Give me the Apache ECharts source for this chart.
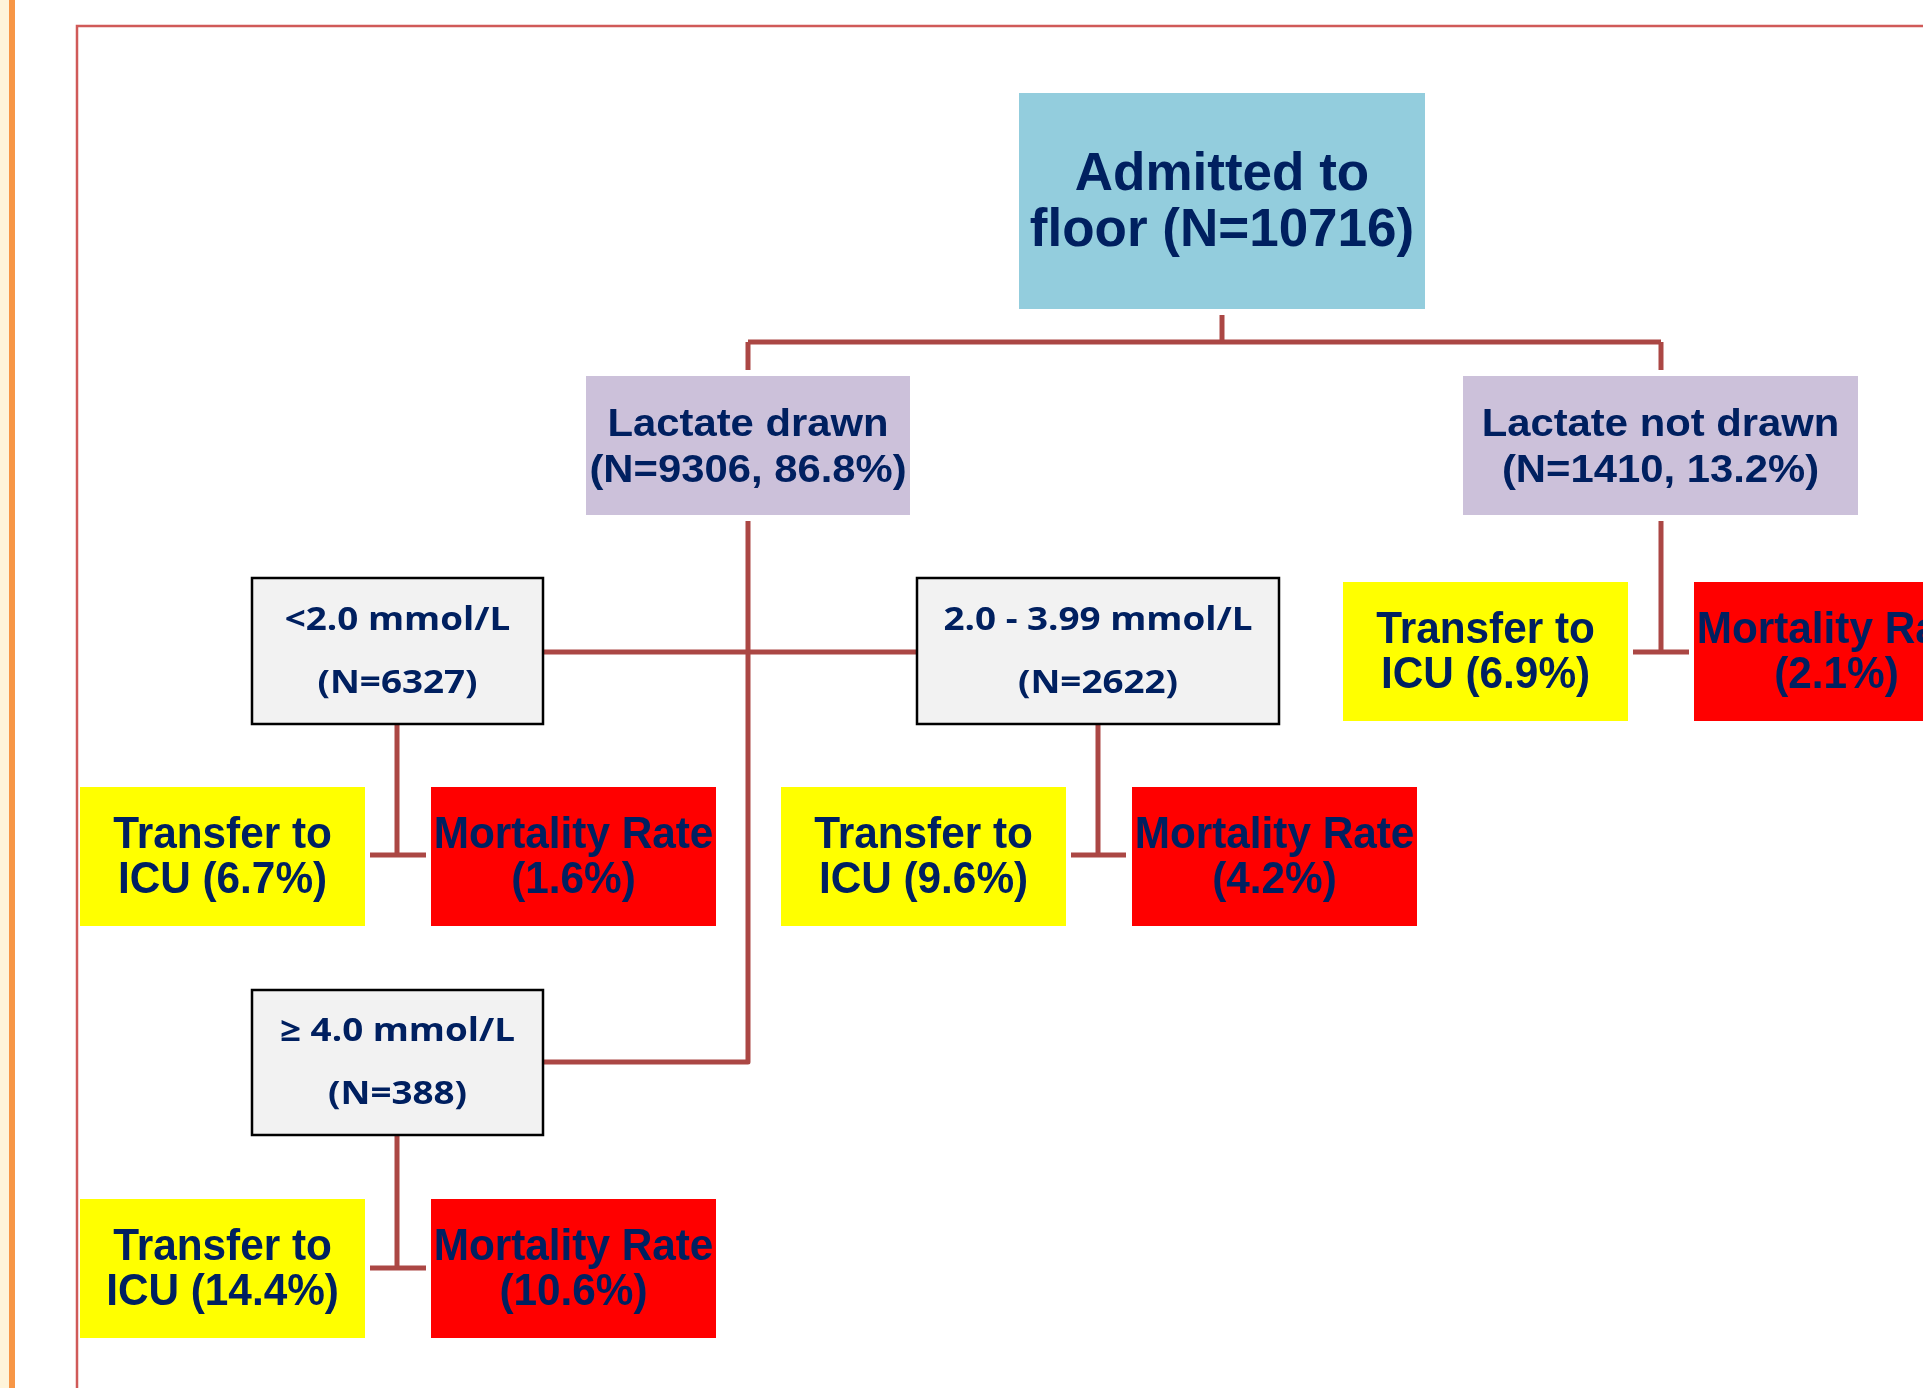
<!DOCTYPE html>
<html>
<head>
<meta charset="utf-8">
<script src="https://cdn.jsdelivr.net/npm/echarts@6/dist/echarts.min.js"></script>
<style>
  html, body { margin: 0; padding: 0; background: #ffffff; }
  #chart { width: 1923px; height: 1388px; }
</style>
</head>
<body>
<div id="chart"></div>
<script>
// ---------------- DATA ----------------
const rootName = 'Admitted to\nfloor';
const rootN = 10716;
const branchNames = ['Lactate drawn', 'Lactate not drawn'];
const branchN = [9306, 1410];
const branchPct = [86.8, 13.2];
const lactateLevels = ['<2.0 mmol/L', '2.0 - 3.99 mmol/L', '\u2265 4.0 mmol/L'];
const levelN = [6327, 2622, 388];
const outcomeGroups = ['<2.0 mmol/L', '2.0 - 3.99 mmol/L', '\u2265 4.0 mmol/L', 'Lactate not drawn'];
const icuTransferPct = [6.7, 9.6, 14.4, 6.9];
const mortalityPct = [1.6, 4.2, 10.6, 2.1];

// ---------------- LAYOUT (page pixels) ----------------
const rootBox = [1019, 93, 406, 216];
const branchBoxes = [[586, 376, 324, 139], [1463, 376, 395, 139]];
const levelBoxes = [[252, 578, 291, 146], [917, 578, 362, 146], [252, 990, 291, 145]];
const outcomeOrigins = [[80, 787], [781, 787], [80, 1199], [1343, 582]];
const outcomeSize = [285, 139];
const redOffset = 351;
const connectors = [
  [[1222, 315], [1222, 342]],
  [[748, 342], [1661, 342]],
  [[748, 342], [748, 370]],
  [[1661, 342], [1661, 370]],
  [[748, 521], [748, 1062], [543, 1062]],
  [[543, 652], [917, 652]],
  [[397, 724], [397, 855]],
  [[370, 855], [426, 855]],
  [[1098, 724], [1098, 855]],
  [[1071, 855], [1126, 855]],
  [[397, 1135], [397, 1268]],
  [[370, 1268], [426, 1268]],
  [[1661, 521], [1661, 652]],
  [[1633, 652], [1689, 652]]
];

// ---------------- STYLES ----------------
const NAVY = '#002060';
const LINE = '#AB4744';
const styles = {
  root:    { fill: '#93CDDD', stroke: null, font: 'Liberation Sans', size: 53, lh: 56, sx: 1.0, dy: 2 },
  branch:  { fill: '#CCC1DA', stroke: null, font: 'Liberation Sans', size: 38, lh: 46, sx: 1.1, dy: 3 },
  level:   { fill: '#F2F2F2', stroke: '#000000', font: 'Open Sans', size: 32, lh: 63, sx: 1.15, dy: 1 },
  icu:     { fill: '#FFFF00', stroke: null, font: 'Liberation Sans', size: 45, lh: 45, sx: 0.94, dy: 2 },
  mort:    { fill: '#FF0000', stroke: null, font: 'Liberation Sans', size: 45, lh: 45, sx: 0.94, dy: 2 }
};

// ---------------- BUILD NODES ----------------
const nodes = [];
nodes.push({ box: rootBox, kind: 'root', text: rootName + ' (N=' + rootN + ')' });
branchNames.forEach((n, i) => nodes.push({
  box: branchBoxes[i], kind: 'branch',
  text: n + '\n(N=' + branchN[i] + ', ' + branchPct[i].toFixed(1) + '%)'
}));
lactateLevels.forEach((n, i) => nodes.push({
  box: levelBoxes[i], kind: 'level', text: n + '\n(N=' + levelN[i] + ')'
}));
outcomeGroups.forEach((g, i) => {
  const o = outcomeOrigins[i];
  nodes.push({ box: [o[0], o[1], outcomeSize[0], outcomeSize[1]], kind: 'icu',
    text: 'Transfer to\nICU (' + icuTransferPct[i].toFixed(1) + '%)' });
  nodes.push({ box: [o[0] + redOffset, o[1], outcomeSize[0], outcomeSize[1]], kind: 'mort',
    text: 'Mortality Rate\n(' + mortalityPct[i].toFixed(1) + '%)' });
});

const chart = echarts.init(document.getElementById('chart'), null, { renderer: 'canvas' });

const option = {
  animation: false,
  backgroundColor: '#ffffff',
  grid: { left: 0, right: 0, top: 0, bottom: 0 },
  xAxis: { type: 'value', min: 0, max: 1923, show: false },
  yAxis: { type: 'value', min: 0, max: 1388, inverse: true, show: false },
  graphic: [
    { type: 'rect', left: 0, top: 0, shape: { width: 9, height: 1388 }, style: { fill: '#FEF4DA' }, z: 0 },
    { type: 'rect', left: 9, top: 0, shape: { width: 6, height: 1388 }, style: { fill: '#F79646' }, z: 0 }
  ],
  series: [
    {
      // frame
      type: 'custom',
      silent: true,
      clip: false,
      data: [[77, 26]],
      renderItem: function (params, api) {
        const p = api.coord([api.value(0), api.value(1)]);
        const r = api.coord([1923, 1388]);
        return {
          type: 'polyline',
          shape: { points: [[p[0], r[1]], [p[0], p[1]], [r[0], p[1]]] },
          style: { stroke: '#D05A58', lineWidth: 2.5, fill: null }
        };
      },
      z: 1
    },
    {
      // connectors
      type: 'custom',
      silent: true,
      clip: false,
      data: connectors.map((c, i) => [c[0][0], c[0][1], i]),
      renderItem: function (params, api) {
        const c = connectors[api.value(2)];
        const pts = c.map(pt => api.coord(pt));
        return {
          type: 'polyline',
          shape: { points: pts },
          style: { stroke: LINE, lineWidth: 5, fill: null, lineJoin: 'round' }
        };
      },
      z: 2
    },
    {
      // boxes
      type: 'custom',
      silent: true,
      clip: false,
      data: nodes.map((n, i) => [n.box[0], n.box[1], n.box[0] + n.box[2], n.box[1] + n.box[3], i]),
      renderItem: function (params, api) {
        const n = nodes[api.value(4)];
        const st = styles[n.kind];
        const p1 = api.coord([api.value(0), api.value(1)]);
        const p2 = api.coord([api.value(2), api.value(3)]);
        const cx = (p1[0] + p2[0]) / 2;
        const cy = (p1[1] + p2[1]) / 2 + st.dy;
        const rect = {
          type: 'rect',
          shape: { x: p1[0], y: p1[1], width: p2[0] - p1[0], height: p2[1] - p1[1] },
          style: st.stroke ? { fill: st.fill, stroke: st.stroke, lineWidth: 2.5 } : { fill: st.fill }
        };
        const txt = {
          type: 'text',
          x: cx, y: cy,
          scaleX: st.sx,
          style: {
            x: 0, y: 0,
            text: n.text,
            fill: NAVY,
            fontFamily: st.font,
            fontWeight: 'bold',
            fontSize: st.size,
            lineHeight: st.lh,
            align: 'center',
            verticalAlign: 'middle'
          }
        };
        return { type: 'group', children: [rect, txt] };
      },
      z: 3
    }
  ]
};

chart.setOption(option);
</script>
</body>
</html>
